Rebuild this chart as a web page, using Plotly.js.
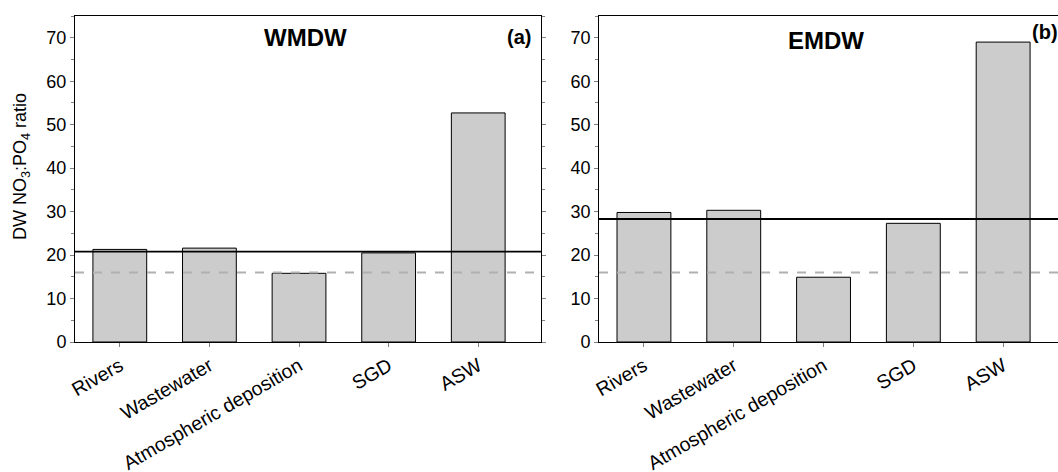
<!DOCTYPE html>
<html>
<head>
<meta charset="utf-8">
<script src="https://cdn.plot.ly/plotly-3.0.1.min.js"></script>
<style>
html,body{margin:0;padding:0;overflow:hidden;background:#fff;}
#chart{width:1066px;height:472px;}
</style>
</head>
<body>
<div id="chart"></div>
<script>
const categories = ["Rivers", "Wastewater", "Atmospheric deposition", "SGD", "ASW"];
const wmdwValues = [21.3, 21.6, 15.8, 20.5, 52.7];
const emdwValues = [29.8, 30.3, 14.9, 27.3, 69.0];
const wmdwMean = 20.8;
const emdwMean = 28.3;
const redfield = 16;
const yTicks = [0, 10, 20, 30, 40, 50, 60, 70];

const font = "'Liberation Sans', Arial, Helvetica, sans-serif";

const barStyle = {color: "#cccccc", line: {color: "#000000", width: 1}};

const traces = [
  {type: "bar", x: categories, y: wmdwValues, xaxis: "x", yaxis: "y",
   marker: barStyle, width: 0.6, hoverinfo: "x+y", showlegend: false},
  {type: "bar", x: categories, y: emdwValues, xaxis: "x2", yaxis: "y2",
   marker: barStyle, width: 0.6, hoverinfo: "x+y", showlegend: false}
];

function xAxis(domain, anchor) {
  return {
    domain: domain, anchor: anchor, type: "category",
    range: [-0.5, 4.7], showgrid: false, zeroline: false,
    showline: true, linecolor: "#000", linewidth: 1, mirror: true,
    ticks: "outside", ticklen: 4, tickcolor: "#808080", tickwidth: 1,
    tickangle: -30, tickfont: {family: font, size: 19.5, color: "#000"},
    fixedrange: true
  };
}
function yAxis(anchor) {
  return {
    anchor: anchor, range: [0, 75], showgrid: false, zeroline: false,
    showline: true, linecolor: "#000", linewidth: 1, mirror: "ticks",
    tickmode: "array", tickvals: yTicks, ticktext: yTicks.map(String),
    ticks: "outside", ticklen: 4, tickcolor: "#808080", tickwidth: 1,
    minor: {dtick: 5, ticks: "outside", ticklen: 3, tickcolor: "#808080", showgrid: false},
    tickfont: {family: font, size: 18, color: "#000"},
    fixedrange: true
  };
}

function hline(xref, yref, y, color, width, dash) {
  return {type: "line", xref: xref + " domain", yref: yref, x0: 0, x1: 1, y0: y, y1: y,
          line: {color: color, width: width, dash: dash}, layer: "above"};
}

const layout = {
  width: 1066, height: 472,
  margin: {l: 75, r: 0, t: 16, b: 130},
  paper_bgcolor: "#fff", plot_bgcolor: "#fff",
  font: {family: font, color: "#000"},
  xaxis: xAxis([0, 0.4702], "y"),
  yaxis: yAxis("x"),
  xaxis2: xAxis([0.5288, 1], "y2"),
  yaxis2: yAxis("x2"),
  bargap: 0.4,
  shapes: [
    hline("x", "y", redfield, "#b0b0b0", 2, "dash"),
    hline("x", "y", wmdwMean, "#000", 1.8, "solid"),
    hline("x2", "y2", redfield, "#b0b0b0", 2, "dash"),
    hline("x2", "y2", emdwMean, "#000", 1.8, "solid")
  ],
  annotations: [
    {text: "<b>WMDW</b>", xref: "x domain", yref: "y", x: 0.4936, y: 70.1,
     xanchor: "center", yanchor: "middle", showarrow: false,
     font: {family: font, size: 24, color: "#000"}},
    {text: "<b>EMDW</b>", xref: "x2 domain", yref: "y2", x: 0.487, y: 69.4,
     xanchor: "center", yanchor: "middle", showarrow: false,
     font: {family: font, size: 24, color: "#000"}},
    {text: "<b>(a)</b>", xref: "x domain", yref: "y", x: 0.953, y: 70.2,
     xanchor: "center", yanchor: "middle", showarrow: false,
     font: {family: font, size: 20, color: "#000"}},
    {text: "<b>(b)</b>", xref: "x2 domain", yref: "y2", x: 0.956, y: 71.4,
     xanchor: "center", yanchor: "middle", showarrow: false,
     font: {family: font, size: 20, color: "#000"}},
    {text: "DW NO<sub>3</sub>:PO<sub>4</sub> ratio", xref: "paper", yref: "paper",
     x: 0, y: 0.5, xshift: -54, yshift: 12, textangle: -90,
     xanchor: "center", yanchor: "middle", showarrow: false,
     font: {family: font, size: 18, color: "#000"}}
  ]
};

Plotly.newPlot("chart", traces, layout, {displayModeBar: false, staticPlot: true});
</script>
</body>
</html>
